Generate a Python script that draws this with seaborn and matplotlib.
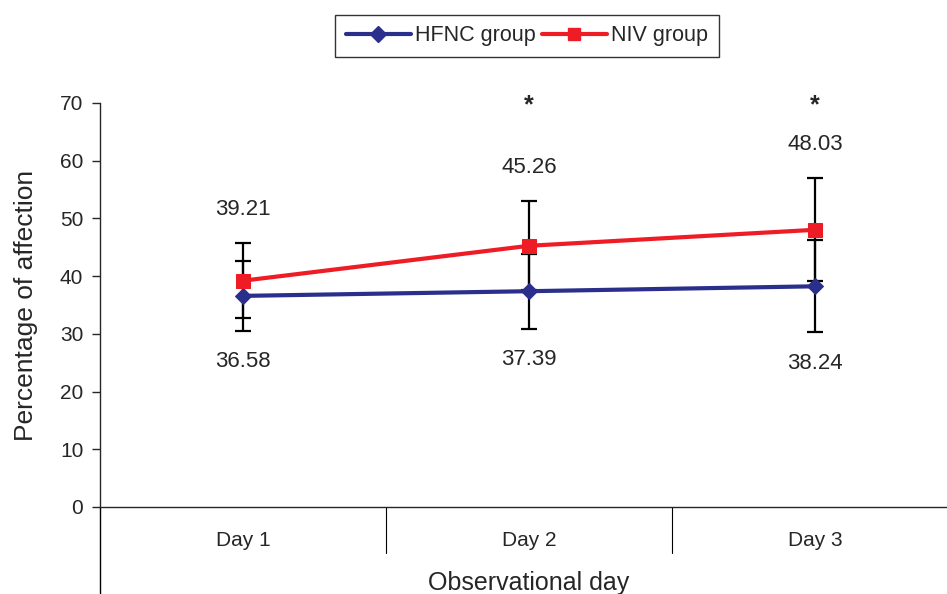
import matplotlib
matplotlib.use("Agg")
import matplotlib.pyplot as plt
import seaborn as sns
import pandas as pd
from matplotlib.lines import Line2D

days = ["Day 1", "Day 2", "Day 3"]
hfnc_mean = [36.58, 37.39, 38.24]
niv_mean = [39.21, 45.26, 48.03]
hfnc_sd = [6.1, 6.5, 8.0]
niv_sd = [6.5, 7.7, 8.9]
significant = ["", "*", "*"]

sns.set_style("white")
plt.rcParams['font.family'] = ['Liberation Sans', 'DejaVu Sans']

fig = plt.figure(figsize=(9.47, 5.94), dpi=100)
W, H = 947, 594
x0, x1 = 100, 958
y0, y1 = 507, 103
ax = fig.add_axes([x0 / W, 1 - y0 / H, (x1 - x0) / W, (y0 - y1) / H])

pos = list(range(len(days)))
df = pd.DataFrame({"pos": pos * 2,
                   "value": hfnc_mean + niv_mean,
                   "group": ["HFNC group"] * 3 + ["NIV group"] * 3})

blue = "#2B2F8C"
red = "#EE1C25"

ax.errorbar(pos, niv_mean, yerr=niv_sd, fmt="none", ecolor="black",
            elinewidth=1.6, capsize=6, capthick=1.6, zorder=2)
ax.errorbar(pos, hfnc_mean, yerr=hfnc_sd, fmt="none", ecolor="black",
            elinewidth=1.6, capsize=6, capthick=1.6, zorder=2)

sns.lineplot(data=df[df.group == "HFNC group"], x="pos", y="value", color=blue,
             marker="D", markersize=8, markeredgecolor=blue, linewidth=3,
             ax=ax, zorder=3, legend=False)
sns.lineplot(data=df[df.group == "NIV group"], x="pos", y="value", color=red,
             marker="s", markersize=9.5, markeredgecolor=red, linewidth=3,
             ax=ax, zorder=4, legend=False)

ax.set_xlim(-0.5, 2.5)
ax.set_ylim(0, 70)
ax.set_yticks(range(0, 71, 10))
ax.tick_params(axis="y", direction="out", length=6, width=1, labelsize=15, pad=6, left=True)
ax.set_xticks([])
ax.set_xlabel("")
ax.set_ylabel("Percentage of affection", fontsize=19, labelpad=16)

for s in ["top", "right"]:
    ax.spines[s].set_visible(False)
ax.spines["left"].set_linewidth(1)
ax.spines["bottom"].set_linewidth(1)

# left spine continues below the category area
ax.plot([-0.5, -0.5], [0, -20], color="black", lw=1, clip_on=False)
# category dividers
for d in [0.5, 1.5]:
    ax.plot([d, d], [0, -8], color="black", lw=0.8, clip_on=False)

for i, d in enumerate(days):
    ax.text(i, -5.8, d, ha="center", va="center", fontsize=15)
ax.text(1, -13.2, "Observational day", ha="center", va="center", fontsize=18)

for i in pos:
    ax.text(i, niv_mean[i] + niv_sd[i] + 5.8, f"{niv_mean[i]:.2f}",
            ha="center", va="center", fontsize=16)
    ax.text(i, hfnc_mean[i] - hfnc_sd[i] - 5.3, f"{hfnc_mean[i]:.2f}",
            ha="center", va="center", fontsize=16)
    if significant[i]:
        ax.text(i, 69.6, significant[i], ha="center", va="center",
                fontsize=18, fontweight="bold")

handles = [Line2D([], [], color=blue, marker="D", markersize=8, lw=3),
           Line2D([], [], color=red, marker="s", markersize=9, lw=3)]
fig.legend(handles, ["HFNC group", "NIV group"], loc="center",
           bbox_to_anchor=(527 / W, 1 - 36 / H), ncol=2, fontsize=15.5,
           frameon=True, fancybox=False, edgecolor="black", handlelength=3.0,
           columnspacing=0.3, handletextpad=0.2, borderpad=0.5)

fig.savefig("out.png", dpi=100)
